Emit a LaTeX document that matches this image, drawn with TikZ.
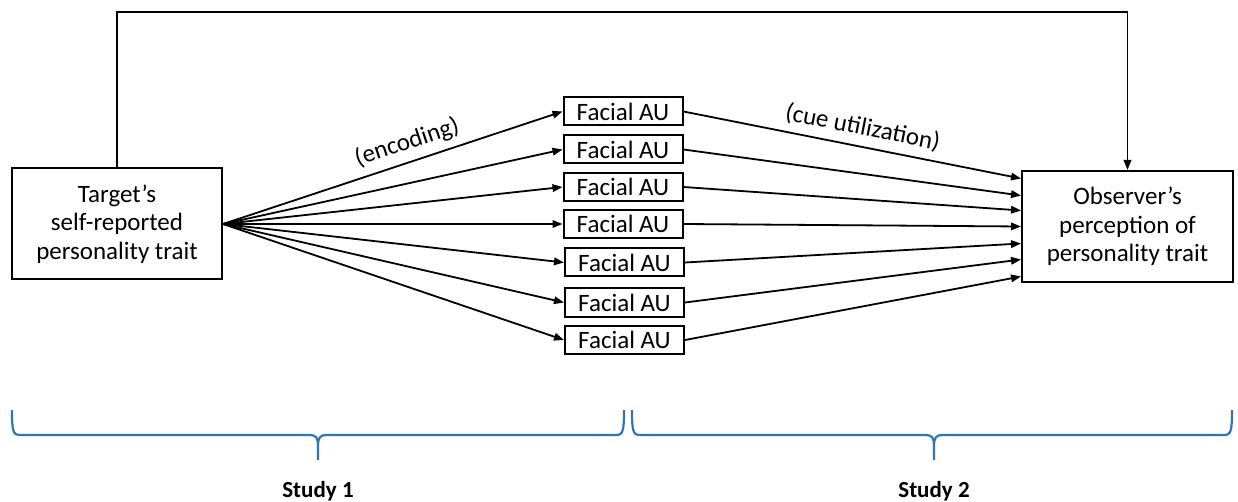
\documentclass[tikz,border=0pt]{standalone}
\usepackage{fontspec}
\setmainfont{Carlito}
\usetikzlibrary{arrows.meta,calc}
\definecolor{braceblue}{RGB}{46,117,182}
\begin{document}
\begin{tikzpicture}[x=1pt,y=-1pt,
  box/.style={draw,line width=2pt,align=center,font=\fontsize{25}{28.5}\selectfont,inner sep=0pt},
  bigbox/.style={box,minimum width=210pt,minimum height=111pt},
  aubox/.style={box,minimum width=119pt,minimum height=28pt},
  arr/.style={line width=1.8pt,-{Triangle[length=10pt,width=7.5pt]}},
  bracestyle/.style={draw=braceblue,line width=2.2pt},
  lab/.style={font=\fontsize{25}{28}\selectfont,inner sep=0pt},
  study/.style={font=\fontsize{23}{26}\selectfont\bfseries}]
\useasboundingbox (0,0) rectangle (1238,502);
\node[bigbox] (T) at (117,224) {Target’s\\self-reported\\personality trait};
\node[bigbox,minimum width=211pt] (O) at (1127.5,226.5) {Observer’s\\perception of\\personality trait};
\node[aubox] (a1) at (623,111.5) {Facial AU};
\node[aubox] (a2) at (623,149.5) {Facial AU};
\node[aubox] (a3) at (623,187) {Facial AU};
\node[aubox] (a4) at (623,224) {Facial AU};
\node[aubox] (a5) at (624.5,262.5) {Facial AU};
\node[aubox] (a6) at (624.5,302.5) {Facial AU};
\node[aubox] (a7) at (624.5,340) {Facial AU};
\foreach \i in {1,...,7} \draw[arr] (T.east) -- (a\i.west);
\foreach \i/\d in {1/-48,2/-31,3/-16,4/0,5/17,6/33,7/50}
  \draw[arr] (a\i.east) -- ($(O.west)+(0,\d)$);
\path (T.east) -- node[lab,sloped,above=8pt,pos=0.56] (enc) {(encoding)} (a1.west);
\path (a1.east) -- node[lab,sloped,above=8pt,pos=0.52] (cue) {(cue utilization)} ($(O.west)+(0,-48)$);
\coordinate (top) at (0,12);
\draw[arr] (T.north) -- (T.north |- top) -| (O.north);
% braces
\draw[bracestyle] (12,410) .. controls (12,431) and (13,435) .. (20,435) -- (310,435)
  .. controls (316,435) and (318,438) .. (318,446) -- (318,460)
  (318,446) .. controls (318,438) and (320,435) .. (326,435) -- (616,435)
  .. controls (623,435) and (624,431) .. (624,410);
\draw[bracestyle] (632,410) .. controls (632,431) and (633,435) .. (640,435) -- (926,435)
  .. controls (932,435) and (934,438) .. (934,446) -- (934,460)
  (934,446) .. controls (934,438) and (936,435) .. (942,435) -- (1224,435)
  .. controls (1231,435) and (1232,431) .. (1232,410);
\node[study] (s1) at (318,491) {Study 1};
\node[study] (s2) at (934,491) {Study 2};
\end{tikzpicture}
\end{document}
